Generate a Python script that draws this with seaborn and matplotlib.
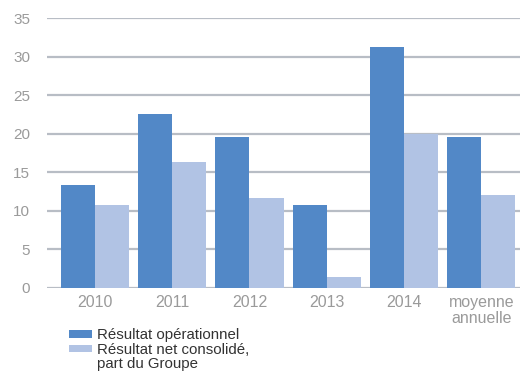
import matplotlib
matplotlib.use("Agg")
import matplotlib.pyplot as plt
import seaborn as sns
import pandas as pd
from matplotlib.patches import Patch

categories = ["2010", "2011", "2012", "2013", "2014", "moyenne\nannuelle"]
series_names = ["Résultat opérationnel", "Résultat net consolidé,\npart du Groupe"]
resultat_operationnel = [13.3, 22.6, 19.5, 10.7, 31.2, 19.5]
resultat_net = [10.7, 16.3, 11.7, 1.4, 20.0, 12.0]
yticks = [0, 5, 10, 15, 20, 25, 30, 35]
colors = ["#5288C7", "#B1C3E4"]

df = pd.DataFrame({
    "cat": categories * 2,
    "serie": [series_names[0]] * len(categories) + [series_names[1]] * len(categories),
    "val": resultat_operationnel + resultat_net,
})

sns.set_theme(style="white")
plt.rcParams["font.family"] = ["Liberation Sans", "DejaVu Sans"]

fig = plt.figure(figsize=(5.2, 3.72), dpi=100)
ax = fig.add_axes([0.0904, 0.2266, 0.9096, 0.725])

sns.barplot(data=df, x="cat", y="val", hue="serie", order=categories,
            hue_order=series_names, palette=colors, width=0.88,
            saturation=1, legend=False, linewidth=0, ax=ax)

ax.set_xlim(-0.62, 5.5)
ax.set_ylim(0, 35)
ax.set_yticks(yticks)
ax.set_yticklabels([str(t) for t in yticks])
ax.yaxis.grid(True, color="#B8BDC5", linewidth=1.6)
ax.set_axisbelow(True)
for s in ax.spines.values():
    s.set_visible(False)
ax.tick_params(axis="both", length=0, labelcolor="#9A9A9A")
ax.tick_params(axis="y", pad=12, labelsize=11)
ax.tick_params(axis="x", pad=5, labelsize=11.5)
for lbl in ax.get_xticklabels():
    lbl.set_linespacing(1.15)
ax.set_xlabel("")
ax.set_ylabel("")

# legend: each line of the labels on its own row, patch beside the first line
leg_labels = []
leg_handles = []
for name, c in zip(series_names, colors):
    lines = name.split("\n")
    for i, line in enumerate(lines):
        leg_labels.append(line)
        leg_handles.append(Patch(facecolor=c if i == 0 else "none", edgecolor="none"))
fig.legend(leg_handles, leg_labels, loc="upper left", bbox_to_anchor=(0.133, 0.117),
           frameon=False, fontsize=10.8, handlelength=1.55, handleheight=0.4,
           handletextpad=0.3, labelspacing=0.02, borderaxespad=0, borderpad=0,
           labelcolor="#333333")

fig.text(0.505, 1.0 + 3.5 / 372, "(en M€)", ha="center", va="baseline", fontsize=13,
         fontweight="bold", color="#222222")

fig.savefig("out.png", dpi=100)
